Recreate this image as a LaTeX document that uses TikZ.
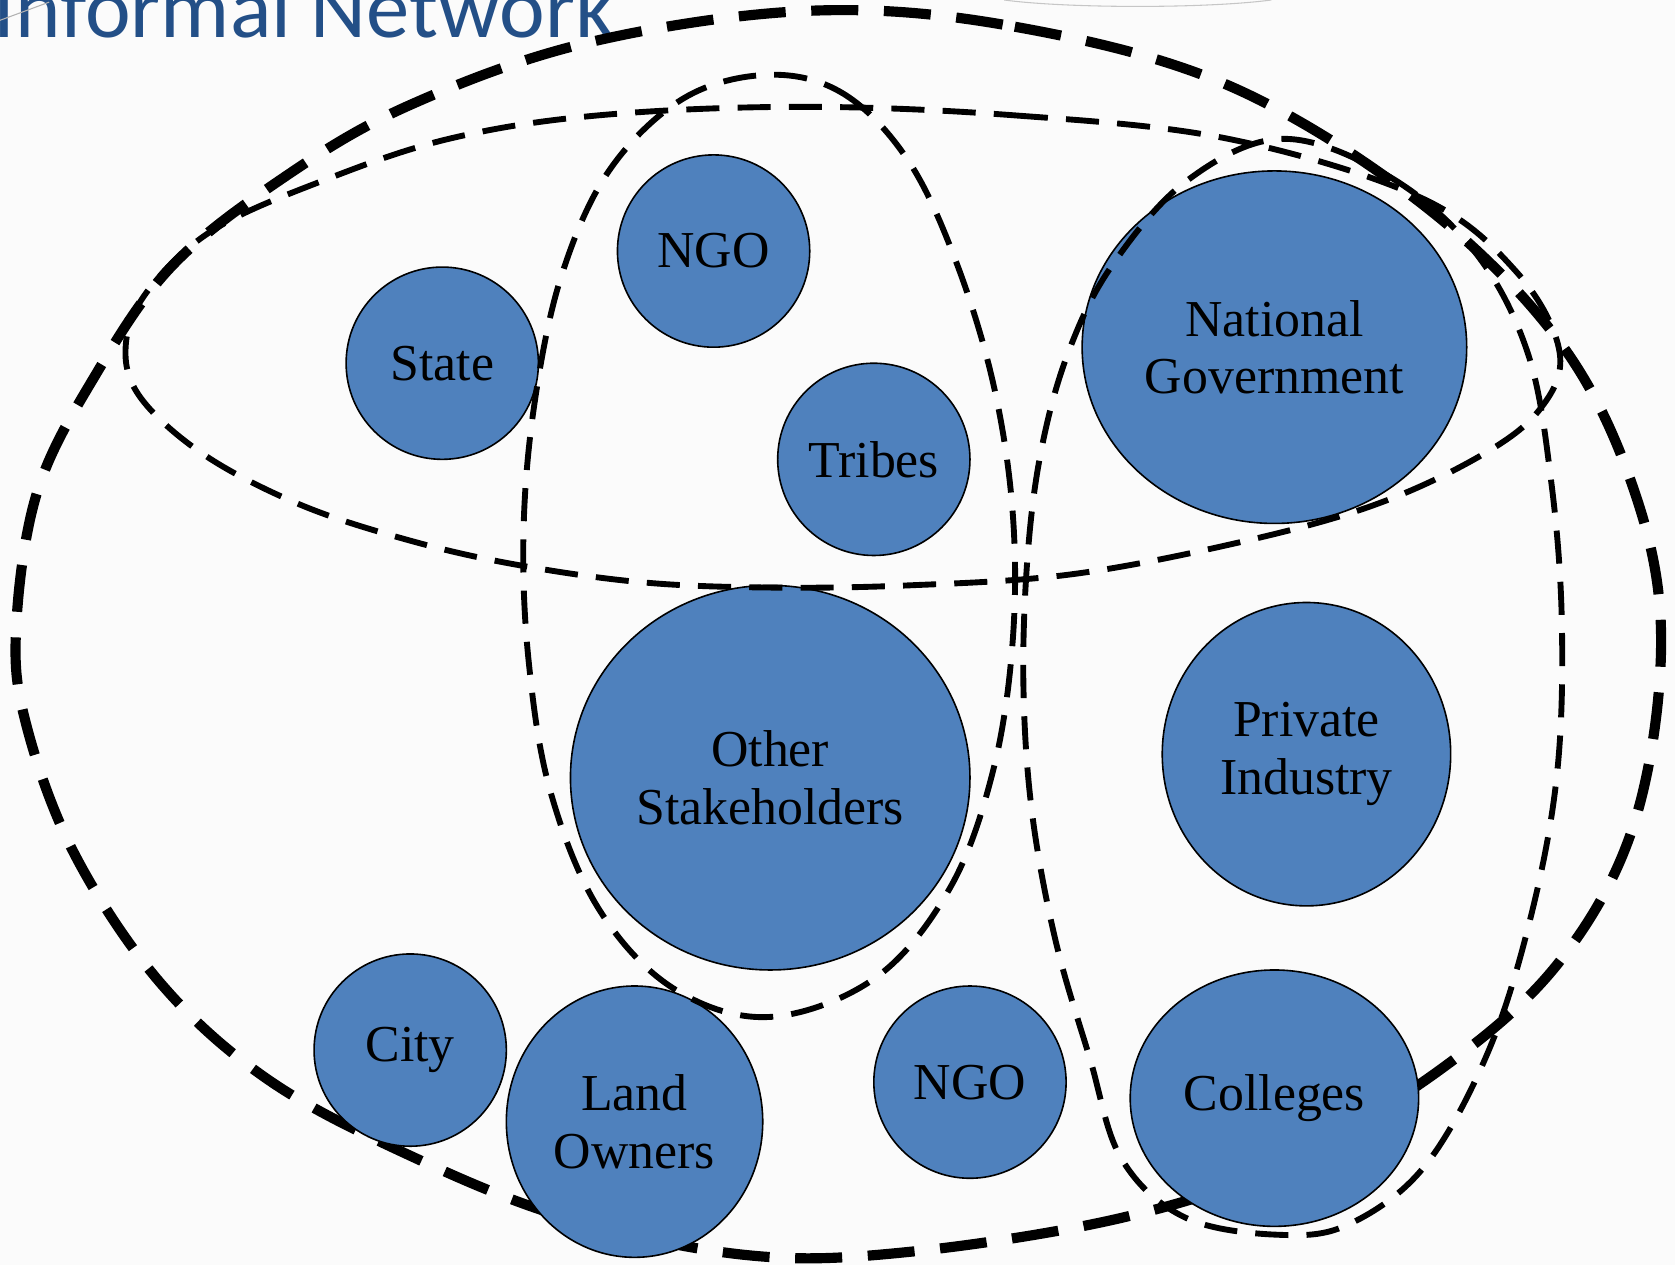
\documentclass[tikz,border=0pt]{standalone}
\usepackage{fontspec}
\setmainfont{Liberation Serif}
\newfontfamily\titlefont{Carlito}
\usetikzlibrary{shapes.geometric}
\definecolor{nodeblue}{RGB}{79,129,189}
\definecolor{titleblue}{RGB}{35,79,135}
\definecolor{bgcol}{RGB}{251,251,251}
\begin{document}
\begin{tikzpicture}[x=1pt,y=-1pt,
  actor/.style={ellipse, draw=black, line width=1.5pt, fill=nodeblue, inner sep=0pt,
    align=center, font=\fontsize{48.5}{54}\selectfont, text=black},
  thickloop/.style={line width=9.5pt, dash pattern=on 44pt off 24pt},
  medloop/.style={line width=5.5pt, dash pattern=on 31pt off 17pt}]
\useasboundingbox (0,0) rectangle (1568,1184);
\clip (0,0) rectangle (1568,1184);
\fill[bgcol] (0,0) rectangle (1568,1184);

% title and faint slide lines
\node[anchor=base west, inner sep=0pt, text=titleblue,
  font=\titlefont\fontsize{81}{84}\selectfont] (title) at (-6,35) {Informal Network};
\draw[gray!45, line width=1pt] (940,0) .. controls (1000,8) and (1130,8) .. (1190,0);
\draw[gray!60, line width=1pt] (0,19) -- (46,2);

% outer thick loop
\draw[thickloop] plot[smooth cycle, tension=0.6] coordinates {
  (760,10) (950,25) (1150,80) (1330,190) (1460,320) (1530,460) (1555,600)
  (1530,770) (1460,900) (1350,1000) (1200,1090) (1050,1140) (850,1172)
  (700,1175) (530,1140) (380,1080) (250,1010) (150,920) (70,800) (25,680)
  (15,590) (35,460) (90,350) (160,250) (260,170) (380,100) (550,40)};

% actors
\node[actor, minimum width=180pt, minimum height=180pt] (ngo1) at (668,235) {NGO};
\node[actor, minimum width=180pt, minimum height=180pt] (state) at (414,340) {State};
\node[actor, minimum width=180pt, minimum height=180pt] (tribes) at (818,430) {Tribes};
\node[actor, minimum width=360pt, minimum height=330pt] (natgov) at (1193,325) {National\\Government};
\node[actor, minimum width=374pt, minimum height=360pt] (other) at (721,728) {Other\\Stakeholders};
\node[actor, minimum width=270pt, minimum height=284pt] (private) at (1223,706) {Private\\Industry};
\node[actor, minimum width=180pt, minimum height=180pt] (city) at (384,983) {City};
\node[actor, minimum width=240pt, minimum height=254pt] (land) at (594,1050) {Land\\Owners};
\node[actor, minimum width=180pt, minimum height=180pt] (ngo2) at (908,1013) {NGO};
\node[actor, minimum width=270pt, minimum height=240pt] (colleges) at (1193,1028) {Colleges};

% horizontal loop
\draw[medloop] plot[smooth cycle, tension=0.6] coordinates {
  (750,100) (950,108) (1150,130) (1330,185) (1420,255) (1460,330) (1440,385)
  (1380,430) (1280,475) (1150,510) (1000,538) (850,548) (720,550) (600,545)
  (480,528) (380,505) (280,472) (190,425) (130,370) (118,320) (140,270)
  (200,215) (300,170) (420,130) (560,108)};

% middle vertical loop
\draw[medloop] plot[smooth cycle, tension=0.6] coordinates {
  (720,70) (790,88) (850,150) (895,245) (930,360) (948,480) (948,600)
  (930,720) (890,830) (820,915) (720,952) (630,925) (560,850) (515,740)
  (495,620) (490,500) (500,380) (525,260) (570,160) (640,92)};

% right vertical loop
\draw[medloop] plot[smooth cycle, tension=0.6] coordinates {
  (1200,130) (1300,165) (1380,235) (1430,330) (1452,450) (1462,580)
  (1458,720) (1435,850) (1395,980) (1335,1090) (1265,1145) (1200,1156)
  (1110,1140) (1050,1085) (1020,990) (988,880) (966,760) (958,640)
  (962,520) (975,420) (1000,330) (1040,250) (1110,170)};
\end{tikzpicture}
\end{document}
